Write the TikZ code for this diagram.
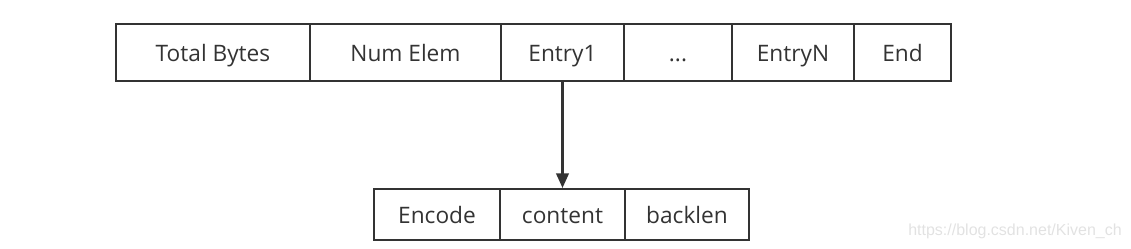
\documentclass[tikz,border=0pt]{standalone}
\usepackage{fontspec}
\setmainfont{Open Sans}
\newfontfamily\wmfont{Liberation Sans}
\usetikzlibrary{arrows.meta}
\definecolor{ln}{HTML}{333333}
\definecolor{wm}{HTML}{E2E2E2}
\tikzset{
  cell/.style={draw=ln, line width=1.6pt, text=ln, inner sep=0pt, text height=13pt, text depth=0pt, font=\fontsize{17}{20}\selectfont},
  top/.style={cell, minimum height=42.75pt},
  bot/.style={cell, minimum height=38.25pt},
  link/.style={draw=ln, line width=1.6pt, -{Triangle[length=11pt,width=9.5pt]}}
}
\begin{document}
\begin{tikzpicture}[x=0.75pt,y=-0.75pt]
\useasboundingbox (0,0) rectangle (1131,248);
\node[top, minimum width=145.5pt] (tb) at (213,52.5) {Total Bytes};
\node[top, minimum width=143.25pt] (ne) at (405.5,52.5) {Num Elem};
\node[top, minimum width=92.25pt] (e1) at (562.5,52.5) {Entry1};
\node[top, minimum width=81pt] (dots) at (678,52.5) {...};
\node[top, minimum width=91.5pt] (en) at (793,52.5) {EntryN};
\node[top, minimum width=72.75pt] (end) at (902.5,52.5) {End};
\node[bot, minimum width=94.5pt] (enc) at (437,214.5) {Encode};
\node[bot, minimum width=93.75pt] (con) at (562.5,214.5) {content};
\node[bot, minimum width=93pt] (bl) at (687,214.5) {backlen};
\draw[link] (e1.south) -- (con.north);
\node[text=wm, anchor=base east, inner sep=0pt, font=\wmfont\fontsize{12}{14}\selectfont] (wmk) at (1122,235) {https://blog.csdn.net/Kiven\_ch};
\end{tikzpicture}
\end{document}
